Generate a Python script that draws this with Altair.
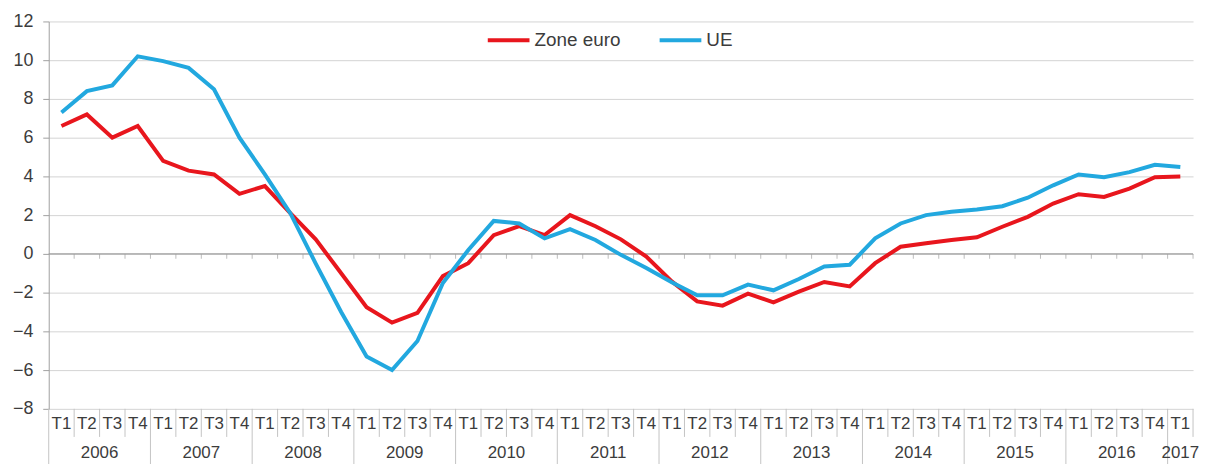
import altair as alt
import pandas as pd

years = ["2006", "2007", "2008", "2009", "2010", "2011", "2012",
         "2013", "2014", "2015", "2016", "2017"]
quarters = ["T1", "T2", "T3", "T4"]
series_names = ["Zone euro", "UE"]
series_colors = ["#e8161d", "#22a8df"]
y_ticks = [-8, -6, -4, -2, 0, 2, 4, 6, 8, 10, 12]

zone_euro = [6.6, 7.2, 6.0, 6.6,
             4.8, 4.3, 4.1, 3.1,
             3.5, 2.1, 0.75, -1.0,
             -2.75, -3.55, -3.05, -1.15,
             -0.48, 0.97, 1.43, 0.97,
             2.0, 1.43, 0.75, -0.14,
             -1.42, -2.45, -2.67, -2.05,
             -2.5, -1.95, -1.45, -1.68,
             -0.48, 0.37, 0.55, 0.72,
             0.86, 1.4, 1.91, 2.6,
             3.08, 2.94, 3.37, 3.96,
             4.0]
ue = [7.3, 8.4, 8.7, 10.2,
      9.95, 9.6, 8.5, 6.0,
      4.1, 2.1, -0.5, -3.0,
      -5.3, -6.0, -4.5, -1.5,
      0.2, 1.7, 1.57, 0.8,
      1.28, 0.72, -0.05, -0.73,
      -1.47, -2.14, -2.14, -1.59,
      -1.88, -1.3, -0.65, -0.56,
      0.8, 1.57, 2.0, 2.17,
      2.29, 2.46, 2.9, 3.54,
      4.1, 3.96, 4.22, 4.6,
      4.48]

n = len(zone_euro)
FONT = "Liberation Sans"
TXT = "#3c3c3c"
GRID = "#d4d4d4"
SEP = "#c4c4c4"
AX = "#a0a0a0"
Y_MIN, Y_MAX = -8, 12
Y_QLABEL = -8.8
Y_QSEP = -9.45
Y_YLABEL = -10.28
Y_BOTTOM = -11.0

df = pd.DataFrame({
    "pos": [i + 0.5 for i in range(n)] * 2,
    "value": zone_euro + ue,
    "serie": [series_names[0]] * n + [series_names[1]] * n,
    "order": [0] * n + [1] * n,
})

df_q = pd.DataFrame({"pos": [i + 0.5 for i in range(n)],
                     "label": [quarters[i % 4] for i in range(n)],
                     "value": [Y_QLABEL] * n})
year_pos = []
for k, y in enumerate(years):
    start = 4 * k
    end = min(4 * k + 4, n)
    year_pos.append((start + end) / 2)
df_y = pd.DataFrame({"pos": year_pos, "label": years, "value": [Y_YLABEL] * len(years)})

bounds = list(range(0, n + 1))
qb = [b for b in bounds if b % 4 != 0]
yb = [b for b in bounds if b % 4 == 0 and b < n]
df_qsep = pd.DataFrame({"pos": qb, "value": [Y_MIN] * len(qb), "value2": [Y_QSEP] * len(qb)})
df_ysep = pd.DataFrame({"pos": yb, "value": [Y_MIN] * len(yb), "value2": [Y_BOTTOM] * len(yb)})
df_ticks = pd.DataFrame({"pos": bounds[1:], "value": [0] * n})
df_zero = pd.DataFrame({"value": [0]})

xscale = alt.Scale(domain=[0, n], nice=False, zero=False)
yscale = alt.Scale(domain=[Y_MIN, Y_MAX], nice=False, zero=False)

X = alt.X("pos:Q", scale=xscale, axis=None)
Y = alt.Y("value:Q", scale=yscale,
          axis=alt.Axis(values=y_ticks, title=None, grid=True, gridColor=GRID,
                        gridWidth=1, domainColor=AX, tickColor=AX, tickSize=6,
                        labelFont=FONT, labelFontSize=18, labelColor=TXT,
                        labelPadding=10))

color = alt.Color("serie:N",
                  scale=alt.Scale(domain=series_names, range=series_colors),
                  legend=alt.Legend(title=None, orient="none", direction="horizontal",
                                    legendX=440, legendY=-4,
                                    symbolType="stroke", symbolSize=1764,
                                    symbolStrokeWidth=4, labelFont=FONT,
                                    labelFontSize=19, labelColor=TXT,
                                    labelOffset=3, columnPadding=31))

lines = alt.Chart(df).mark_line(strokeWidth=4).encode(
    x=X, y=Y, color=color, order="order:Q")

zero_line = alt.Chart(df_zero).mark_rule(color=AX, strokeWidth=1.5).encode(y=Y)
zero_ticks = alt.Chart(df_ticks).mark_tick(color=AX, orient="vertical", size=5,
                                           thickness=1, yOffset=2.5).encode(x=X, y=Y)
qsep = alt.Chart(df_qsep).mark_rule(color=SEP, strokeWidth=1).encode(
    x=X, y=Y, y2="value2:Q")
ysep = alt.Chart(df_ysep).mark_rule(color=SEP, strokeWidth=1).encode(
    x=X, y=Y, y2="value2:Q")
qlab = alt.Chart(df_q).mark_text(font=FONT, fontSize=17, color=TXT, baseline="middle").encode(
    x=X, y=Y, text="label:N")
ylab = alt.Chart(df_y).mark_text(font=FONT, fontSize=17, color=TXT, baseline="middle").encode(
    x=X, y=Y, text="label:N")

chart = alt.layer(zero_line, zero_ticks, qsep, ysep, qlab, ylab, lines).properties(
    width=1152, height=390,
    autosize=alt.AutoSizeParams(type="none"),
    padding={"left": 41, "top": 12, "right": 6, "bottom": 54},
).configure_view(stroke=None)

chart.save("out.html", embed_options={"renderer": "svg", "actions": False})
